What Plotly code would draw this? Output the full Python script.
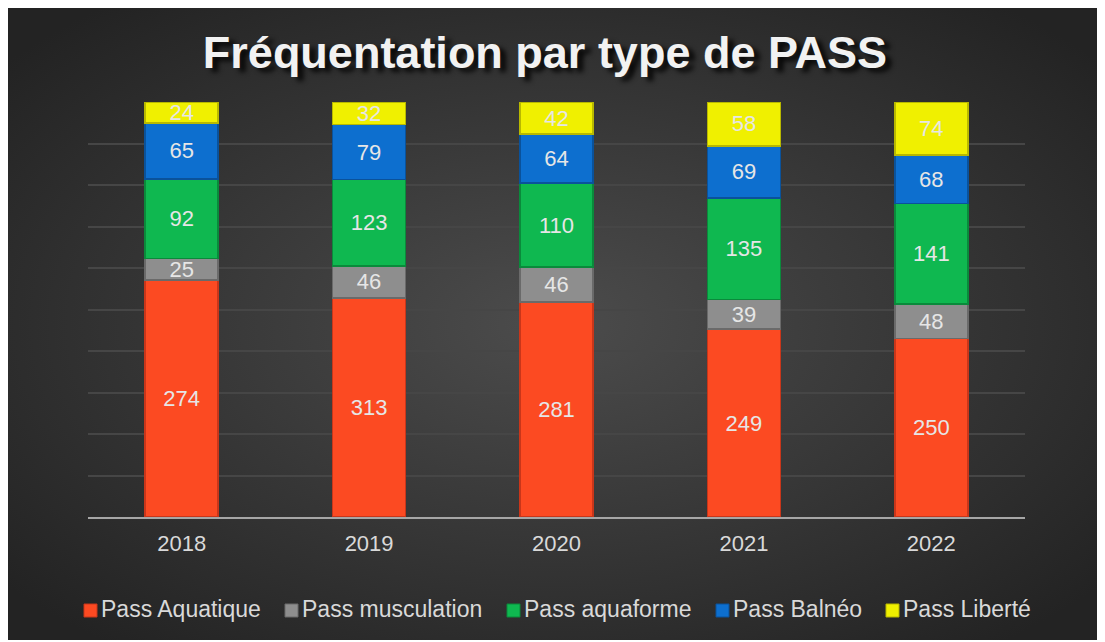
import base64
import plotly.graph_objects as go

years = ["2018", "2019", "2020", "2021", "2022"]
pass_names = ["Pass Aquatique", "Pass musculation", "Pass aquaforme", "Pass Balnéo", "Pass Liberté"]
aquatique = [274, 313, 281, 249, 250]
musculation = [25, 46, 46, 39, 48]
aquaforme = [92, 123, 110, 135, 141]
balneo = [65, 79, 64, 69, 68]
liberte = [24, 32, 42, 58, 74]

series = [aquatique, musculation, aquaforme, balneo, liberte]
colors = ["#fc4a22", "#8e8e8e", "#0fb850", "#0d6fcf", "#f0f000"]
edges = ["#c9361a", "#6a6a6a", "#0a8a3b", "#0a529b", "#b8b800"]

# page body has an 8px margin, so the figure div starts at (8, 8)
OFF = 8
W, H = 1105 - OFF, 642 - OFF
L, R, T, B = 88 - OFF, 80, 102 - OFF, 125
pw, ph = W - L - R, H - T - B

def px_x(x):
    return (x - OFF - L) / pw

def px_y(y):
    return (H - B - (y - OFF)) / ph

# dark radial background
svg = """<svg xmlns='http://www.w3.org/2000/svg' width='1094' height='632' preserveAspectRatio='none'>
<defs><radialGradient id='g' cx='50%' cy='50%' r='65%'>
<stop offset='0' stop-color='#4c4c4c'/><stop offset='1' stop-color='#232323'/>
</radialGradient></defs><rect width='1094' height='632' fill='url(#g)'/></svg>"""
bg = "data:image/svg+xml;base64," + base64.b64encode(svg.encode()).decode()

fig = go.Figure()
for name, vals, c, e in zip(pass_names, series, colors, edges):
    fig.add_trace(go.Bar(
        x=years, y=vals, name=name, text=vals, texttemplate="%{text}",
        textposition="inside", insidetextanchor="middle", textangle=0,
        textfont=dict(color="#e6e6e6", size=22, family="Arial, Liberation Sans"),
        marker=dict(color=c, line=dict(color=e, width=1.5)),
        showlegend=False,
    ))

# legend drawn by hand: small square + label, as in the original
legend_sym_x = [84, 285, 507, 716, 886]
annotations, shapes = [], []
for name, c, e, sx in zip(pass_names, colors, edges, legend_sym_x):
    shapes.append(dict(type="rect", xref="paper", yref="paper",
                       x0=px_x(sx), x1=px_x(sx + 13), y0=px_y(617), y1=px_y(604),
                       fillcolor=c, line=dict(color=e, width=1)))
    annotations.append(dict(text=name, xref="paper", yref="paper", x=px_x(sx + 15), y=px_y(609),
                            xanchor="left", yanchor="middle", showarrow=False,
                            font=dict(size=23, color="#d9d9d9")))

fig.update_layout(
    width=W, height=H,
    barmode="stack", barnorm="percent", bargap=0.61,
    uniformtext=dict(minsize=22, mode="show"),
    paper_bgcolor="white", plot_bgcolor="rgba(0,0,0,0)",
    margin=dict(l=L, r=R, t=T, b=B),
    font=dict(family="Arial, Liberation Sans", color="#d9d9d9"),
    title=dict(
        text="<b>Fréquentation par type de PASS</b>",
        x=(545 - OFF) / W, xanchor="center", xref="container",
        y=1 - (52 - OFF) / H, yanchor="middle", yref="container",
        font=dict(size=45, color="#f2f2f2", family="Arial, Liberation Sans",
                  shadow="6px 4px 5px rgba(0,0,0,0.85)"),
    ),
    xaxis=dict(showgrid=False, showline=True, linecolor="#a6a6a6", linewidth=2,
               tickfont=dict(size=22, color="#d9d9d9"), ticks="", ticklabelstandoff=6),
    yaxis=dict(range=[0, 100], dtick=10, showticklabels=False, gridcolor="#464646",
               gridwidth=1.5, zeroline=False, showline=False),
    showlegend=False,
    annotations=annotations,
    shapes=shapes,
    images=[dict(source=bg, xref="paper", yref="paper",
                 x=px_x(7), y=px_y(8), sizex=px_x(1101) - px_x(7), sizey=px_y(8) - px_y(640),
                 xanchor="left", yanchor="top", sizing="stretch", layer="below")],
)

fig.write_html("out.html")
